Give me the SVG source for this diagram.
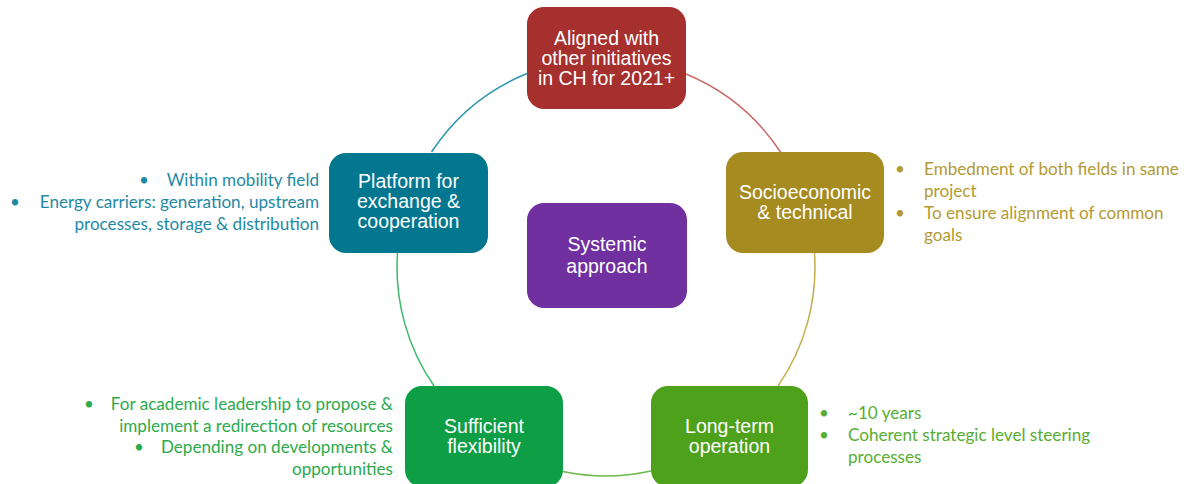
<svg xmlns="http://www.w3.org/2000/svg" width="1187" height="484" viewBox="0 0 1187 484">
<style>
.node text{font-family:"Liberation Sans",Arial,sans-serif;font-size:19.5px;fill:#ffffff;text-anchor:middle}
.arc{fill:none;stroke-width:1.5}
.side{font-family:Lato,"Liberation Sans",sans-serif;font-size:17.1px}
.teal{fill:#1F89A5}
.gold{fill:#B39A33}
.green1{fill:#2DAA4C}
.green2{fill:#57AE33}
.end{text-anchor:end}
</style>
<rect width="1187" height="484" fill="#ffffff"/>
<g id="connectors">
<path class="arc" stroke="#C0504D" stroke-opacity="0.85" d="M686,74 A209,209 0 0 1 780.5,152"/>
<path class="arc" stroke="#C4AD4A" d="M814.5,253 A209,209 0 0 1 778,386"/>
<path class="arc" stroke="#6CB84A" d="M651,471 A209,209 0 0 1 563,471.5"/>
<path class="arc" stroke="#3DBA68" d="M434,386 A209,209 0 0 1 397.5,253"/>
<path class="arc" stroke="#2E96B0" d="M431.5,152 A209,209 0 0 1 527,73.5"/>
</g>
<g id="node-aligned" class="node">
<rect x="527" y="7" width="159" height="102" rx="17" fill="#A5302E"/>
<text x="606.5" y="45">Aligned with</text>
<text x="606.5" y="65">other initiatives</text>
<text x="606.5" y="85">in CH for 2021+</text>
</g>
<g id="node-socio" class="node">
<rect x="726" y="152" width="158" height="101" rx="17" fill="#A68B20"/>
<text x="805" y="199">Socioeconomic</text>
<text x="805" y="219">&amp; technical</text>
</g>
<g id="node-platform" class="node">
<rect x="329" y="153" width="159" height="100" rx="17" fill="#047790"/>
<text x="408.5" y="188">Platform for</text>
<text x="408.5" y="208">exchange &amp;</text>
<text x="408.5" y="228">cooperation</text>
</g>
<g id="node-systemic" class="node">
<rect x="527" y="203" width="160" height="105" rx="17" fill="#7030A0"/>
<text x="607" y="251">Systemic</text>
<text x="607" y="273">approach</text>
</g>
<g id="node-flex" class="node">
<rect x="405" y="386" width="158" height="101" rx="17" fill="#0E9E45"/>
<text x="484" y="433">Sufficient</text>
<text x="484" y="453">flexibility</text>
</g>
<g id="node-longterm" class="node">
<rect x="651" y="386" width="157" height="101" rx="17" fill="#4EA21B"/>
<text x="729.5" y="433">Long-term</text>
<text x="729.5" y="453">operation</text>
</g>
<g id="text-socio" class="side gold">
<text x="895" y="175">•</text><text x="924" y="175">Embedment of both fields in same</text>
<text x="924" y="197">project</text>
<text x="895" y="219">•</text><text x="924" y="219">To ensure alignment of common</text>
<text x="924" y="241">goals</text>
</g>
<g id="text-platform" class="side teal">
<text x="139" y="186">•</text><text class="end" x="319" y="186">Within mobility field</text>
<text x="10" y="208">•</text><text class="end" x="319" y="208">Energy carriers: generation, upstream</text>
<text class="end" x="319" y="230">processes, storage &amp; distribution</text>
</g>
<g id="text-flex" class="side green1">
<text x="84" y="410">•</text><text class="end" x="393" y="410">For academic leadership to propose &amp;</text>
<text class="end" x="393" y="432">implement a redirection of resources</text>
<text x="134" y="453">•</text><text class="end" x="393" y="453">Depending on developments &amp;</text>
<text class="end" x="393" y="475">opportunities</text>
</g>
<g id="text-longterm" class="side green2">
<text x="819" y="419">•</text><text x="848" y="419">~10 years</text>
<text x="819" y="441">•</text><text x="848" y="441">Coherent strategic level steering</text>
<text x="848" y="463">processes</text>
</g>
</svg>
